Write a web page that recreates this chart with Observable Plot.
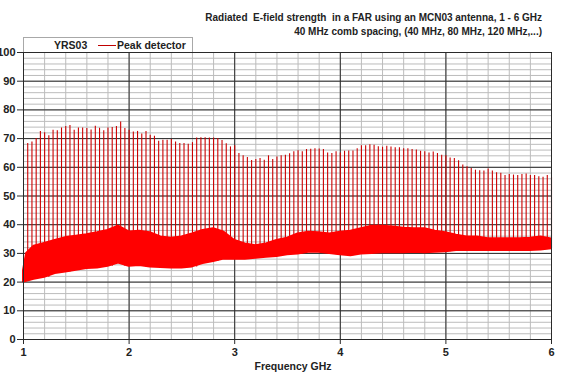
<!DOCTYPE html>
<html><head><meta charset="utf-8">
<script src="https://cdn.jsdelivr.net/npm/d3@7"></script>
<script src="https://cdn.jsdelivr.net/npm/@observablehq/plot@0.6"></script>
<style>
body{margin:0;background:#fff;}
#wrap{position:relative;width:570px;height:380px;font-family:Arial,"Liberation Sans",sans-serif;font-weight:bold;color:#222;}
#title{position:absolute;right:28px;top:11px;text-align:right;font-size:10px;line-height:14px;white-space:pre;}
#legend{position:absolute;left:23px;top:37px;width:170px;height:15px;border:1px solid #a8a8a8;border-bottom:none;box-sizing:border-box;font-size:10.5px;background:#fff;}
#legend span{position:absolute;top:0px;line-height:14px;}
#legend .ln{position:absolute;top:7px;height:1px;background:#c00000;}
#xlab{position:absolute;left:293px;top:360px;transform:translateX(-50%);font-size:10.5px;}
</style></head>
<body><div id="wrap"></div>
<script>
// Peak detector comb lines: harmonics of 40 MHz (n = 26 .. 150), values in dBµV/m
const combSpacingGHz = 0.04;
const firstHarmonic = 26;
const peakValues = [
 68.3,68.8,70,72.5,72,71,72.9,72.7,73.7,74.2,74.6,72.9,73.7,73.7,73.5,73,74.3,73.6,72.7,73.7,73.9,74.2,75.8,73.5,72.9,
 72.3,72.5,71.6,72.5,71.2,70.8,69.1,69.4,69.4,69.7,68.8,68.3,68.3,68,68.6,70.2,70.3,70.3,70.2,70.2,70,69.3,68.2,67.1,67.5,
 64.8,64,63.4,62.4,62.7,63.1,62.5,64,62.7,63.6,64,64.2,64.7,65.4,65.8,65.4,66.2,66.3,66.5,66.4,66.2,65,64.8,65.4,65,
 65.6,65.7,65.7,66.5,67.5,67.5,67.9,67.7,67.2,67,67.3,67.1,66.8,66.8,66.5,66.5,66.2,66,65.6,65.4,65,65.3,64.8,64.2,64,
 63.2,63.1,62.3,60.8,60.2,59.6,59,58.8,58.7,59.4,58.7,58.1,57.9,57.1,57.5,57.3,57.1,57.5,57.7,57.1,57.1,56.7,56.5,57.1,56.5
];
// Noise floor band
const bandFreq = [1.0,1.03,1.1,1.2,1.3,1.4,1.5,1.6,1.7,1.8,1.9,2.0,2.1,2.2,2.3,2.4,2.5,2.6,2.7,2.8,2.9,3.0,3.1,3.2,3.3,3.4,3.5,3.6,3.7,3.8,3.9,4.0,4.1,4.2,4.3,4.4,4.5,4.6,4.7,4.8,4.9,5.0,5.1,5.2,5.3,5.4,5.5,5.6,5.7,5.8,5.9,6.0];
const bandHigh = [24,30,32.5,33.5,34.5,35.5,36,36.5,37.2,38,39.5,37.5,37.7,37.2,35.7,35.3,35.7,36.8,38,38.6,37.4,34.5,33.3,32.7,33.3,34.5,35.3,36.8,37.4,37.2,36.8,37.4,37.7,38.6,39.5,39.5,39.2,38.8,38.6,38.6,37.7,37.2,36.3,35.7,35.7,35.1,35.1,35.1,35.1,35.3,35.7,35];
const bandLow = [20,20.3,21,21.7,23,23.5,24.1,24.7,24.9,25.5,26.6,25.5,25.8,25.3,25.1,24.9,24.9,25.3,26.5,27.2,28,28,28,28.3,28.7,28.9,29.5,29.8,30.4,30.4,30,29.5,29.2,29.8,30,30.2,30.2,30.2,30.4,30.2,30.4,30.6,31,31,31,31,31,31,31,31,31.2,31.6];
const xTicks = [1,2,3,4,5,6];
const yTicks = [0,10,20,30,40,50,60,70,80,90,100];

const band = bandFreq.map((f,i)=>({f, lo:bandLow[i], hi:bandHigh[i]}));
const lowAt = f => { let b = band[0]; for (const d of band) if (Math.abs(d.f-f) < Math.abs(b.f-f)) b = d; return b.lo; };
const peaks = peakValues.map((v,i)=>{ const f = +((firstHarmonic+i)*combSpacingGHz).toFixed(2); return {f, v, lo: lowAt(f)}; });

const minorX = d3.range(1, 6.001, 0.2);
const minorY = d3.range(0, 100.001, 2);

const chart = Plot.plot({
  width:570, height:380,
  marginLeft:23, marginRight:19, marginTop:52, marginBottom:41,
  x:{domain:[1,6], label:null},
  y:{domain:[0,100], label:null},
  style:{fontFamily:'Arial,"Liberation Sans",sans-serif', fontSize:"11px", fontWeight:"bold", color:"#222", background:"white"},
  marks:[
    Plot.gridX(minorX, {stroke:"#bcbcbc", strokeOpacity:1}),
    Plot.gridY(minorY, {stroke:"#bcbcbc", strokeOpacity:1}),
    Plot.gridX(xTicks, {stroke:"#2a2a2a", strokeOpacity:1}),
    Plot.gridY(yTicks, {stroke:"#2a2a2a", strokeOpacity:1}),
    Plot.ruleX(peaks, {x:"f", y1:"lo", y2:"v", stroke:"#cc0000", strokeWidth:1.1, strokeOpacity:1}),
    Plot.areaY(band, {x:"f", y1:"lo", y2:"hi", fill:"#ff0000", stroke:"#ff0000", strokeWidth:2}),
    Plot.frame({stroke:"#2a2a2a"}),
    Plot.axisY({ticks:yTicks, tickSize:6, tickPadding:2, stroke:"#2a2a2a", label:null}),
    Plot.axisX({ticks:xTicks, tickSize:5, tickPadding:4, tickFormat:d=>String(d), stroke:"#2a2a2a", label:null})
  ]
});
const wrap = document.getElementById("wrap");
wrap.appendChild(chart);
const t = document.createElement("div"); t.id="title";
t.textContent = "Radiated  E-field strength  in a FAR using an MCN03 antenna, 1 - 6 GHz\n40 MHz comb spacing, (40 MHz, 80 MHz, 120 MHz,...)";
wrap.appendChild(t);
const lg = document.createElement("div"); lg.id="legend";
lg.innerHTML = '<span style="left:30px">YRS03</span><div class="ln" style="left:74px;width:18px"></div><span style="left:93px">Peak detector</span>';
wrap.appendChild(lg);
const xl = document.createElement("div"); xl.id="xlab"; xl.textContent="Frequency GHz";
wrap.appendChild(xl);
</script>
</body></html>
